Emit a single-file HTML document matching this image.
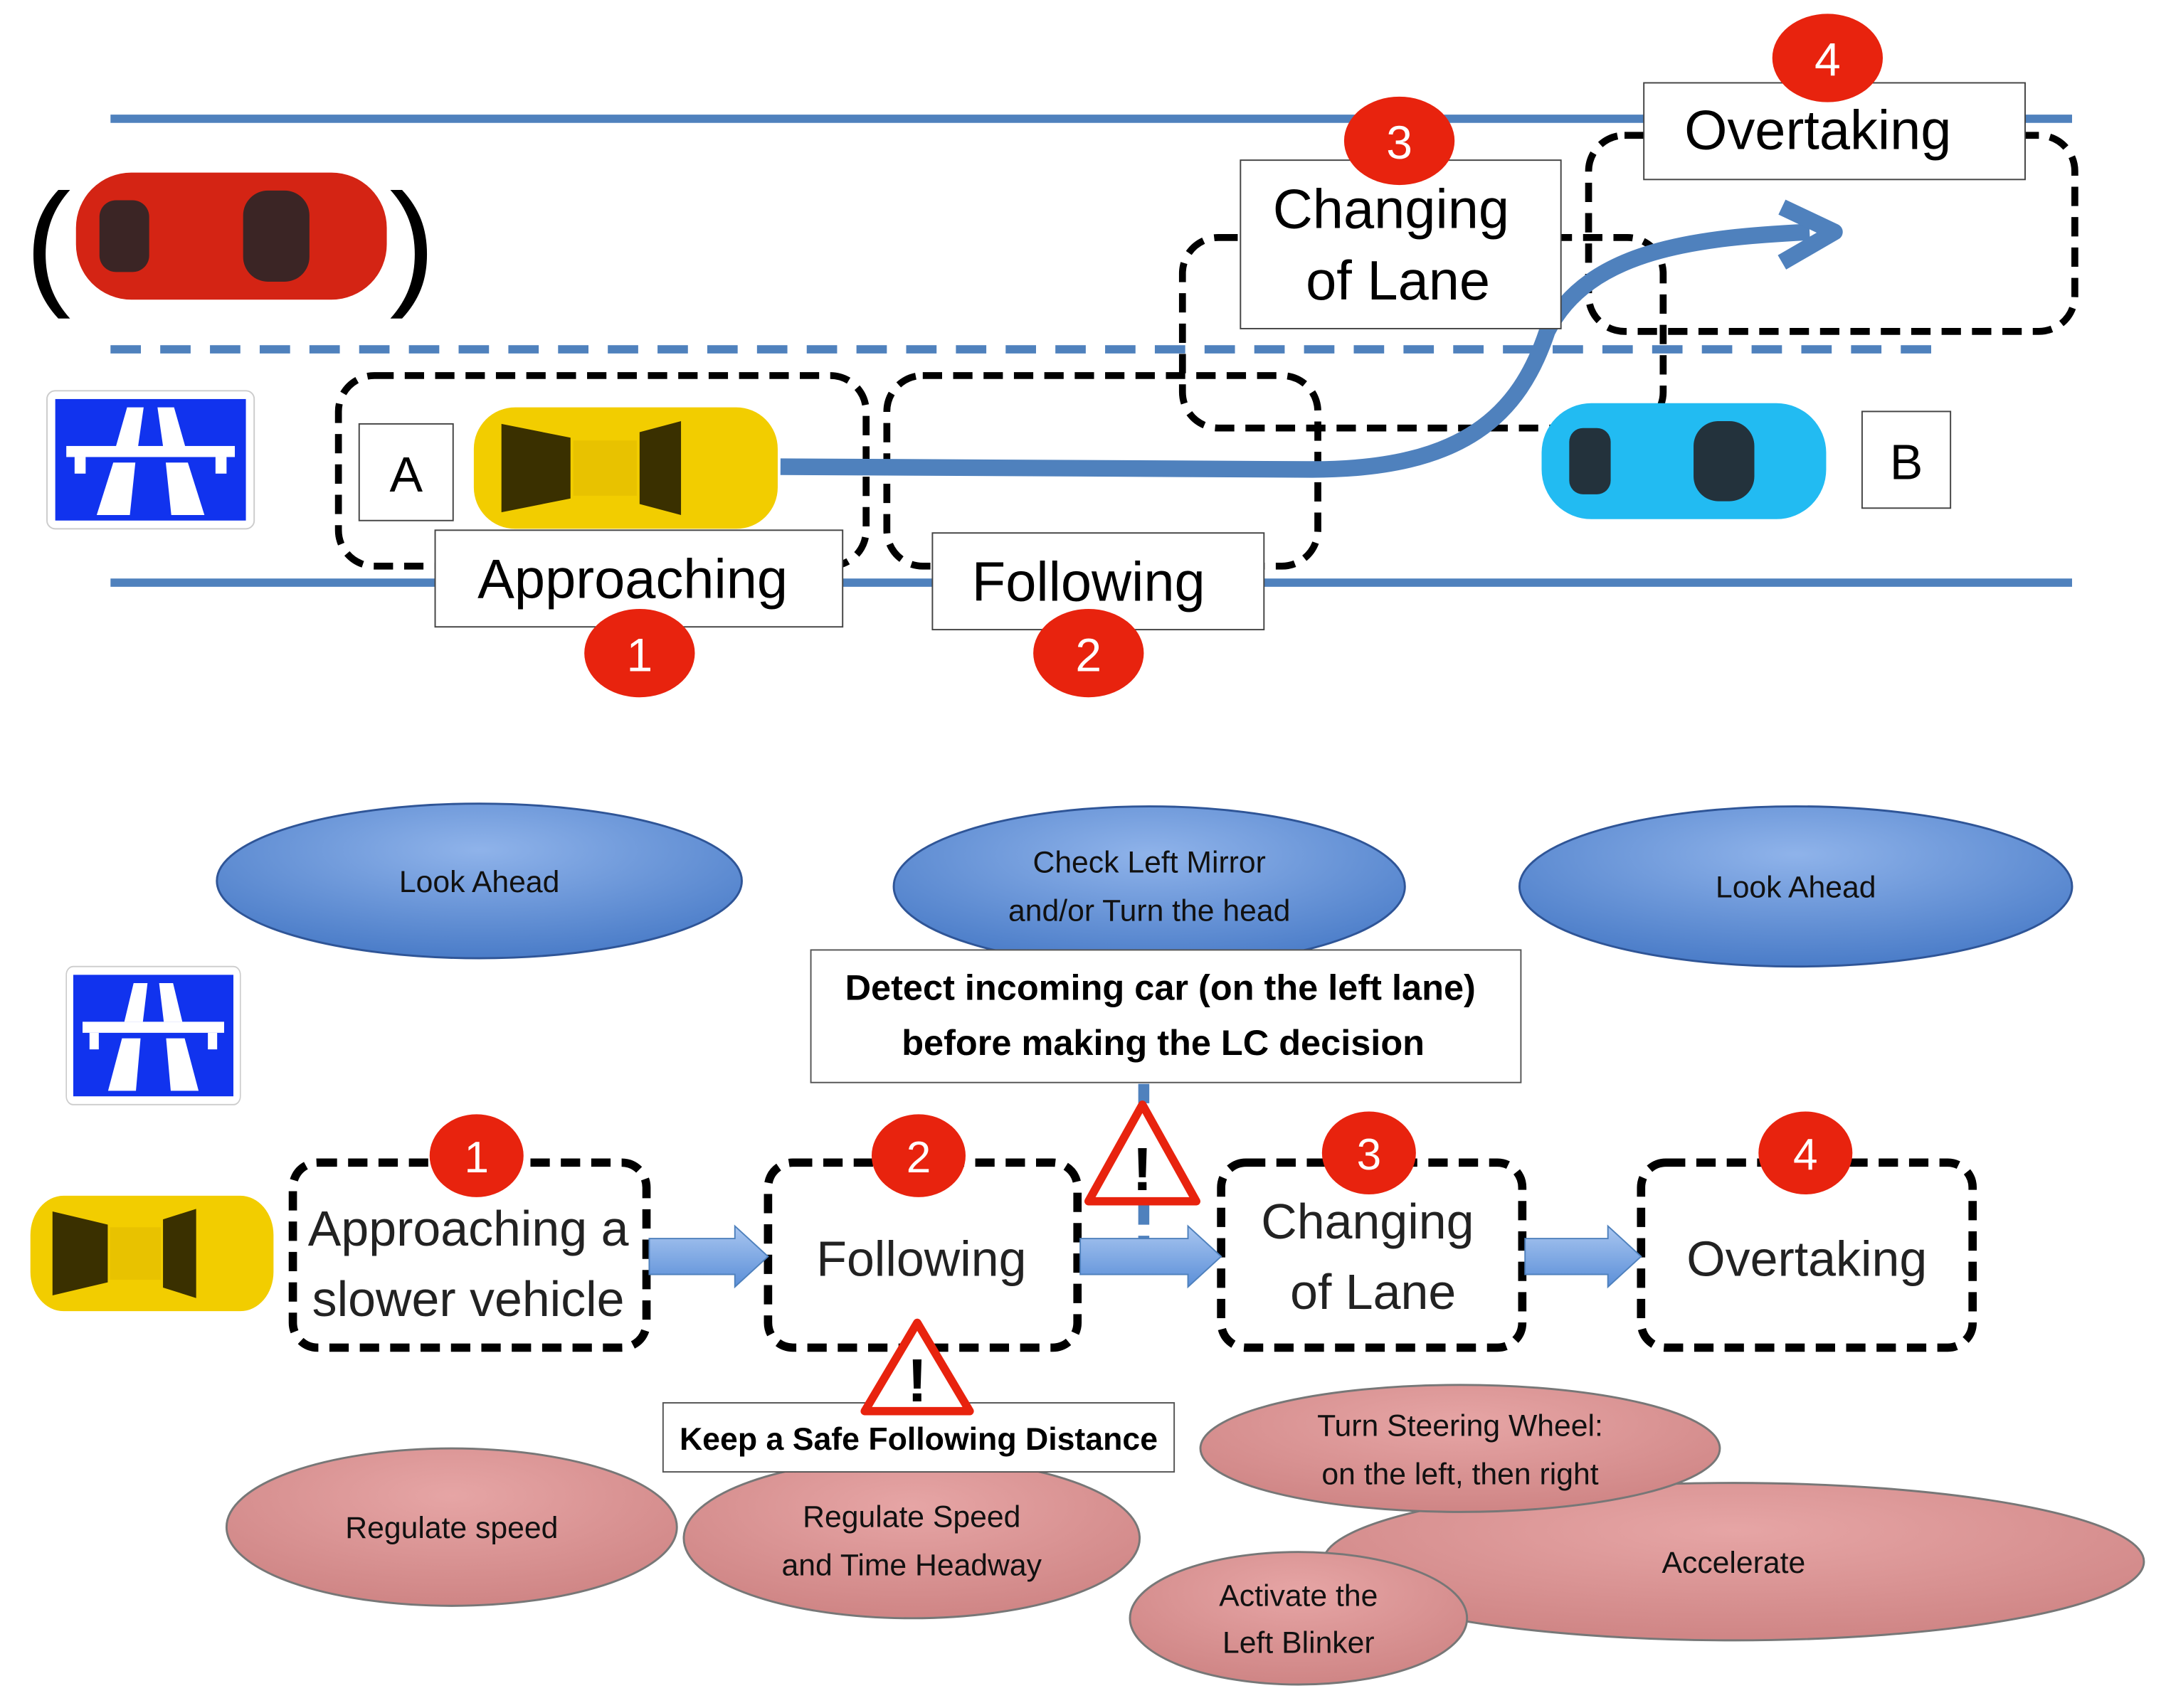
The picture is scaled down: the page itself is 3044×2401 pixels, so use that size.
<!DOCTYPE html>
<html><head><meta charset="utf-8"><style>
html,body{margin:0;padding:0;background:#fff;}
svg{display:block;}
text{font-family:"Liberation Sans",sans-serif;}
</style></head><body>
<svg width="3044" height="2401" viewBox="0 0 1568 1237" preserveAspectRatio="none" xmlns="http://www.w3.org/2000/svg">
<defs>
<radialGradient id="bl" cx="50%" cy="30%" r="70%"><stop offset="0" stop-color="#8fb3ea"/><stop offset="1" stop-color="#4a7cc8"/></radialGradient>
<radialGradient id="rd" cx="50%" cy="30%" r="70%"><stop offset="0" stop-color="#e6a5a5"/><stop offset="1" stop-color="#cf8585"/></radialGradient>
<linearGradient id="ar" x1="0" y1="0" x2="0" y2="1"><stop offset="0" stop-color="#a9c6f0"/><stop offset="1" stop-color="#5b8fd8"/></linearGradient>
<g id="sign"><rect x="0" y="0" width="150" height="100" rx="6" fill="#fff" stroke="#ccc"/><rect x="6" y="6" width="138" height="88" fill="#1133ee"/>
<polygon points="58,12 70,12 66,40 50,40" fill="#fff"/><polygon points="80,12 92,12 100,40 84,40" fill="#fff"/>
<rect x="14" y="40" width="122" height="8" fill="#fff"/><rect x="20" y="48" width="8" height="12" fill="#fff"/><rect x="122" y="48" width="8" height="12" fill="#fff"/>
<polygon points="48,52 64,52 60,90 36,90" fill="#fff"/><polygon points="86,52 102,52 114,90 90,90" fill="#fff"/></g>
<g id="ycar"><rect x="0" y="0" width="220" height="88" rx="30" fill="#f2cd00"/><polygon points="20,12 70,22 70,66 20,76" fill="#3a3000"/><polygon points="120,18 150,10 150,78 120,70" fill="#3a3000"/><rect x="72" y="24" width="46" height="40" fill="#e8c200"/></g>
</defs>
<!-- road -->
<line x1="80" y1="86" x2="1500" y2="86" stroke="#4f81bd" stroke-width="6"/>
<line x1="80" y1="422" x2="1500" y2="422" stroke="#4f81bd" stroke-width="6"/>
<line x1="80" y1="253" x2="1400" y2="253" stroke="#4f81bd" stroke-width="6" stroke-dasharray="22,14"/>
<!-- red car -->
<text x="18" y="210" font-size="100">(</text><text x="282" y="210" font-size="100">)</text>
<rect x="55" y="125" width="225" height="92" rx="40" fill="#d42414"/>
<rect x="72" y="145" width="36" height="52" rx="12" fill="#3b2525"/><rect x="176" y="138" width="48" height="66" rx="18" fill="#3b2525"/>
<use href="#sign" x="34" y="283"/>
<!-- dashed boxes top -->
<g fill="none" stroke="#000" stroke-width="5" stroke-dasharray="14,8">
<rect x="245" y="272" width="382" height="138" rx="26"/>
<rect x="642" y="272" width="312" height="138" rx="26"/>
<rect x="856" y="172" width="348" height="138" rx="26"/>
<rect x="1150" y="98" width="352" height="142" rx="26"/>
</g>
<rect x="260" y="307" width="68" height="70" fill="#fff" stroke="#444"/><text x="294" y="356" font-size="36" text-anchor="middle">A</text>
<use href="#ycar" x="343" y="295"/>
<!-- blue car -->
<rect x="1116" y="292" width="206" height="84" rx="36" fill="#22bbf2"/>
<rect x="1136" y="310" width="30" height="48" rx="10" fill="#23323c"/><rect x="1226" y="305" width="44" height="58" rx="18" fill="#23323c"/>
<rect x="1348" y="298" width="64" height="70" fill="#fff" stroke="#444"/><text x="1380" y="347" font-size="36" text-anchor="middle">B</text>
<!-- path arrow -->
<path d="M565 338 L950 340 C1060 340 1100 300 1120 240 C1150 180 1230 172 1310 168" fill="none" stroke="#4f81bd" stroke-width="12"/>
<polyline points="1290,150 1328,168 1290,190" fill="none" stroke="#4f81bd" stroke-width="12" stroke-linejoin="round"/>
<!-- labels top -->
<rect x="315" y="384" width="295" height="70" fill="#fff" stroke="#444"/><text x="458" y="433" font-size="40" text-anchor="middle">Approaching</text>
<rect x="675" y="386" width="240" height="70" fill="#fff" stroke="#444"/><text x="788" y="435" font-size="40" text-anchor="middle">Following</text>
<rect x="898" y="116" width="232" height="122" fill="#fff" stroke="#444"/><text x="1007" y="165" font-size="40" text-anchor="middle">Changing</text><text x="1012" y="217" font-size="40" text-anchor="middle">of Lane</text>
<rect x="1190" y="60" width="276" height="70" fill="#fff" stroke="#444"/><text x="1316" y="108" font-size="40" text-anchor="middle">Overtaking</text>
<g font-size="34" fill="#fff" text-anchor="middle">
<ellipse cx="463" cy="473" rx="40" ry="32" fill="#e8230e"/><text x="463" y="486">1</text>
<ellipse cx="788" cy="473" rx="40" ry="32" fill="#e8230e"/><text x="788" y="486">2</text>
<ellipse cx="1013" cy="102" rx="40" ry="32" fill="#e8230e"/><text x="1013" y="115">3</text>
<ellipse cx="1323" cy="42" rx="40" ry="32" fill="#e8230e"/><text x="1323" y="55">4</text>
</g>
<!-- bottom -->
<g stroke="#2f5597" stroke-width="1.5">
<ellipse cx="347" cy="638" rx="190" ry="56" fill="url(#bl)"/>
<ellipse cx="832" cy="642" rx="185" ry="58" fill="url(#bl)"/>
<ellipse cx="1300" cy="642" rx="200" ry="58" fill="url(#bl)"/>
</g>
<g font-size="22" fill="#111" text-anchor="middle">
<text x="347" y="646">Look Ahead</text><text x="832" y="632">Check Left Mirror</text><text x="832" y="667">and/or Turn the head</text><text x="1300" y="650">Look Ahead</text>
</g>
<use href="#sign" x="48" y="700" transform="translate(48 700) scale(0.84 1) translate(-48 -700)"/>
<rect x="587" y="688" width="514" height="96" fill="#fff" stroke="#555"/>
<g font-size="26" font-weight="bold" text-anchor="middle"><text x="840" y="724">Detect incoming car (on the left lane)</text><text x="842" y="764">before making the LC decision</text></g>
<line x1="828" y1="785" x2="828" y2="900" stroke="#4f81bd" stroke-width="8" stroke-dasharray="14,8"/>
<use href="#ycar" x="22" y="866" transform="translate(22 866) scale(0.8 0.95) translate(-22 -866)"/>
<g fill="none" stroke="#000" stroke-width="6" stroke-dasharray="14,8">
<rect x="212" y="842" width="256" height="134" rx="18"/>
<rect x="556" y="842" width="224" height="134" rx="18"/>
<rect x="884" y="842" width="218" height="134" rx="18"/>
<rect x="1188" y="842" width="240" height="134" rx="18"/>
</g>
<g fill="url(#ar)" stroke="#4f81bd" stroke-width="1">
<polygon points="470,897 532,897 532,888 556,910 532,932 532,923 470,923"/>
<polygon points="782,897 860,897 860,888 884,910 860,932 860,923 782,923"/>
<polygon points="1104,897 1164,897 1164,888 1188,910 1164,932 1164,923 1104,923"/>
</g>
<g font-size="36" fill="#222" text-anchor="middle">
<text x="339" y="902">Approaching a</text><text x="339" y="953">slower vehicle</text>
<text x="667" y="924">Following</text>
<text x="990" y="897">Changing</text><text x="994" y="948">of Lane</text>
<text x="1308" y="924">Overtaking</text>
</g>
<g font-size="32" fill="#fff" text-anchor="middle">
<ellipse cx="345" cy="837" rx="34" ry="30" fill="#e8230e"/><text x="345" y="849">1</text>
<ellipse cx="665" cy="837" rx="34" ry="30" fill="#e8230e"/><text x="665" y="849">2</text>
<ellipse cx="991" cy="835" rx="34" ry="30" fill="#e8230e"/><text x="991" y="847">3</text>
<ellipse cx="1307" cy="835" rx="34" ry="30" fill="#e8230e"/><text x="1307" y="847">4</text>
</g>
<polygon points="827,800 866,870 788,870" fill="#fff" stroke="#e8230e" stroke-width="6" stroke-linejoin="round"/><text x="827" y="862" font-size="44" font-weight="bold" text-anchor="middle">!</text>
<g stroke="#777" stroke-width="1.5">
<ellipse cx="327" cy="1106" rx="163" ry="57" fill="url(#rd)"/>
<ellipse cx="1255" cy="1131" rx="297" ry="57" fill="url(#rd)"/>
<ellipse cx="660" cy="1114" rx="165" ry="58" fill="url(#rd)"/>
<ellipse cx="1057" cy="1049" rx="188" ry="46" fill="url(#rd)"/>
<ellipse cx="940" cy="1172" rx="122" ry="48" fill="url(#rd)"/>
</g>
<rect x="480" y="1016" width="370" height="50" fill="#fff" stroke="#555"/>
<text x="665" y="1050" font-size="23" font-weight="bold" text-anchor="middle">Keep a Safe Following Distance</text>
<polygon points="664,958 702,1022 626,1022" fill="#fff" stroke="#e8230e" stroke-width="6" stroke-linejoin="round"/><text x="664" y="1015" font-size="44" font-weight="bold" text-anchor="middle">!</text>
<g font-size="22" fill="#111" text-anchor="middle">
<text x="327" y="1114">Regulate speed</text>
<text x="660" y="1106">Regulate Speed</text><text x="660" y="1141">and Time Headway</text>
<text x="1057" y="1040">Turn Steering Wheel:</text><text x="1057" y="1075">on the left, then right</text>
<text x="1255" y="1139">Accelerate</text>
<text x="940" y="1163">Activate the</text><text x="940" y="1197">Left Blinker</text>
</g>
</svg>
</body></html>
